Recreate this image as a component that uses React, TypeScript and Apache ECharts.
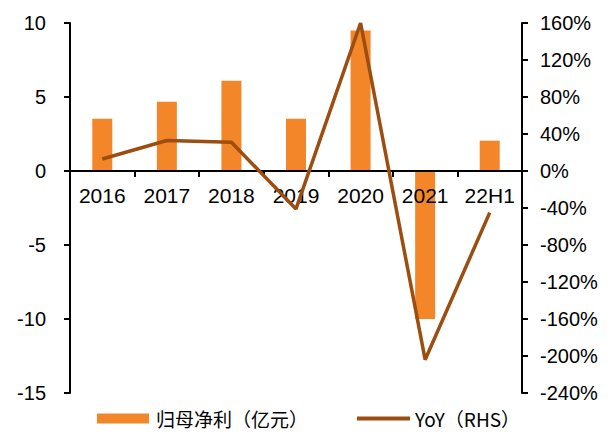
import React, { useEffect, useRef } from "react";
import * as echarts from "echarts";

const categories = ["2016", "2017", "2018", "2019", "2020", "2021", "22H1"];
const netProfit = [3.53, 4.68, 6.1, 3.53, 9.5, -10.0, 2.05];
const yoy = [13, 33, 31, -41, 160, -204, -45];
const barName = "归母净利（亿元）";
const lineName = "YoY（RHS）";

export default function App() {
  const ref = useRef<HTMLDivElement>(null);
  useEffect(() => {
    if (!ref.current) return;
    const chart = echarts.init(ref.current, undefined, { renderer: "svg" });
    const axisFont = { fontFamily: "Liberation Sans, Arial, sans-serif", fontSize: 20, color: "#000" };
    const legendText = { fontFamily: "Noto Sans CJK SC, sans-serif", fontSize: 19, color: "#000", padding: [0, 0, 0, 2] };
    chart.setOption({
      animation: false,
      grid: { left: 70, right: 89, top: 23, bottom: 41, containLabel: false },
      legend: [
        {
          top: 409,
          left: 97,
          padding: 0,
          itemWidth: 52,
          itemHeight: 10,
          textStyle: legendText,
          data: [{ name: barName, icon: "rect" }],
        },
        {
          top: 409,
          left: 357,
          padding: 0,
          itemWidth: 53,
          itemHeight: 4,
          textStyle: { ...legendText, padding: 0 },
          data: [{ name: lineName, icon: "rect" }],
        },
      ],
      xAxis: {
        type: "category",
        data: categories,
        position: "bottom",
        offset: -222,
        z: 3,
        axisLine: { onZero: false, lineStyle: { color: "#000", width: 2 } },
        axisTick: { show: true, length: 6, interval: 0, lineStyle: { color: "#000", width: 2 } },
        axisLabel: { ...axisFont, fontSize: 21, margin: 14, interval: 0 },
      },
      yAxis: [
        {
          type: "value",
          min: -15,
          max: 10,
          interval: 5,
          position: "left",
          axisLine: { show: true, lineStyle: { color: "#000", width: 2 } },
          axisTick: { show: true, length: 6, lineStyle: { color: "#000", width: 2 } },
          axisLabel: { ...axisFont, margin: 24 },
          splitLine: { show: false },
        },
        {
          type: "value",
          min: -240,
          max: 160,
          interval: 40,
          position: "right",
          axisLine: { show: true, lineStyle: { color: "#000", width: 2 } },
          axisTick: { show: true, length: 6, lineStyle: { color: "#000", width: 2 } },
          axisLabel: { ...axisFont, margin: 18, formatter: "{value}%" },
          splitLine: { show: false },
        },
      ],
      series: [
        {
          name: barName,
          type: "bar",
          data: netProfit,
          yAxisIndex: 0,
          barWidth: 20,
          z: 2,
          itemStyle: { color: "#F4862A" },
        },
        {
          name: lineName,
          type: "line",
          data: yoy,
          yAxisIndex: 1,
          symbol: "none",
          clip: false,
          z: 5,
          lineStyle: { color: "#9C4D10", width: 3.5 },
          itemStyle: { color: "#9C4D10" },
        },
      ],
    });
    return () => chart.dispose();
  }, []);
  return <div ref={ref} style={{ width: 611, height: 434, position: "absolute", left: 0, top: 0 }} />;
}
